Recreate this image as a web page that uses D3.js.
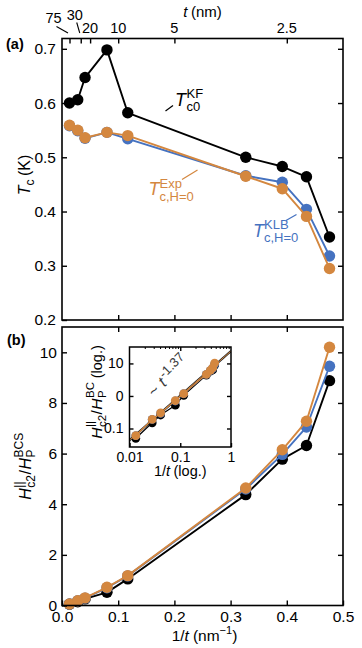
<!DOCTYPE html>
<html><head><meta charset="utf-8">
<script src="https://cdn.jsdelivr.net/npm/d3@7"></script>
<style>
html,body{margin:0;padding:0;background:#fff;}
svg text{font-family:"Liberation Sans",Arial,Helvetica,sans-serif;}
</style></head>
<body>
<svg id="c" width="362" height="648"></svg>
<script>
// ---------- data ----------
const invT   = [0.0133, 0.028, 0.041, 0.080, 0.117, 0.327, 0.392, 0.435, 0.476]; // 1/t (nm^-1)
const tcKF   = [0.600, 0.606, 0.647, 0.698, 0.582, 0.500, 0.483, 0.464, 0.353];
const tcKLB  = [0.558, 0.549, 0.535, 0.546, 0.534, 0.466, 0.454, 0.404, 0.318];
const tcExp  = [0.559, 0.550, 0.536, 0.546, 0.540, 0.465, 0.442, 0.391, 0.295];
const hKF    = [0.05, 0.15, 0.26, 0.52, 1.05, 4.38, 5.78, 6.32, 8.88];
const hKLB   = [0.06, 0.19, 0.29, 0.70, 1.17, 4.60, 5.97, 7.05, 9.45];
const hExp   = [0.06, 0.19, 0.30, 0.72, 1.18, 4.64, 6.15, 7.28, 10.2];
const topT   = [75, 30, 20, 10, 5, 2.5];          // t (nm) ticks on top axis
const xTicks = [0.0, 0.1, 0.2, 0.3, 0.4, 0.5];
const xTickLabels = ["0.0","0.1","0.2","0.3","0.4","0.5"];
const tcTicks = [0.2, 0.3, 0.4, 0.5, 0.6, 0.7];
const tcTickLabels = ["0.2","0.3","0.4","0.5","0.6","0.7"];
const hTicks = [0, 2, 4, 6, 8, 10];
const hTickLabels = ["0","2","4","6","8","10"];
const insXTicks = [0.01, 0.1, 1];
const insXTickLabels = ["0.01","0.1","1"];
const insYTicks = [0.1, 1, 10];
const insYTickLabels = ["0.1","0","10"];
const fitExponent = 1.37, fitPrefactor = 24;

const C_BLACK = "#000000", C_BLUE = "#4572c0", C_ORANGE = "#d4873f";
const FONT = "Liberation Sans, Arial, sans-serif";
const TICK_FS = 15.5, INS_FS = 14;

const svg = d3.select("#c");

// ---------- scales ----------
const x = d3.scaleLinear().domain([0, 0.5]).range([62, 343]);
const yA = d3.scaleLinear().domain([0.2, 0.719]).range([320, 38.5]);
const yB = d3.scaleLinear().domain([0, 11]).range([605.5, 327]);
const xI = d3.scaleLog().domain([0.01, 1]).range([129.5, 231]);
const yI = d3.scaleLog().domain([0.027, 32]).range([447, 347]);

// ---------- helpers ----------
function rich(parent, px, py, parts, color, anchor, rotate) {
  const g = parent.append("g").attr("transform", `translate(${px},${py})` + (rotate ? ` rotate(${rotate})` : ""));
  const inner = g.append("g");
  let cursor = 0, prevStart = 0;
  parts.forEach(p => {
    const x0 = p.stack ? prevStart : cursor + (p.dx || 0);
    const t = inner.append("text").attr("x", x0).attr("y", p.dy || 0)
      .attr("font-size", p.size).attr("font-style", p.italic ? "italic" : "normal")
      .attr("font-weight", p.bold ? "bold" : "normal")
      .attr("fill", color).text(p.t);
    const w = t.node().getComputedTextLength();
    cursor = Math.max(cursor, x0 + w + (p.after || 0));
    prevStart = x0;
  });
  if (anchor === "middle") inner.attr("transform", `translate(${-cursor / 2},0)`);
  if (anchor === "end") inner.attr("transform", `translate(${-cursor},0)`);
  return g;
}

function frame(y) {
  svg.append("rect").attr("x", x.range()[0]).attr("y", y.range()[1])
    .attr("width", x.range()[1] - x.range()[0]).attr("height", y.range()[0] - y.range()[1])
    .attr("fill", "none").attr("stroke", "#000").attr("stroke-width", 1.6);
}

function styleAxis(g, size) {
  g.select(".domain").remove();
  g.selectAll(".tick line").attr("stroke", "#000").attr("stroke-width", 1.4);
  g.selectAll(".tick text").attr("fill", "#000").attr("font-size", size || TICK_FS).attr("font-family", FONT);
}

function series(g, xs, ys, xs_scale, ys_scale, color, r, lw) {
  const pts = xs.map((v, i) => [xs_scale(v), ys_scale(ys[i])]);
  g.append("path").attr("d", d3.line()(pts)).attr("fill", "none")
    .attr("stroke", color).attr("stroke-width", lw).attr("stroke-linejoin", "round");
  g.selectAll(null).data(pts).join("circle")
    .attr("cx", d => d[0]).attr("cy", d => d[1]).attr("r", r).attr("fill", color);
}

// ================= Panel (a) =================
const gA = svg.append("g");
series(gA, invT, tcKF, x, yA, C_BLACK, 5.7, 1.9);
series(gA, invT, tcKLB, x, yA, C_BLUE, 5.7, 1.9);
series(gA, invT, tcExp, x, yA, C_ORANGE, 5.7, 1.9);
frame(yA);

gA.append("g").attr("transform", `translate(${x.range()[0]},0)`)
  .call(d3.axisLeft(yA).tickValues(tcTicks).tickFormat((d, i) => tcTickLabels[i]).tickSizeInner(-5).tickSizeOuter(0).tickPadding(6))
  .call(styleAxis);
gA.append("g").attr("transform", `translate(${x.range()[1]},0)`)
  .call(d3.axisRight(yA).tickValues(tcTicks.slice(1)).tickFormat("").tickSizeInner(-5).tickSizeOuter(0))
  .call(styleAxis);
gA.append("g").attr("transform", `translate(0,${yA.range()[0]})`)
  .call(d3.axisBottom(x).tickValues(xTicks.slice(1, -1)).tickFormat("").tickSizeInner(-5).tickSizeOuter(0))
  .call(styleAxis);
// top axis: t (nm)
const topG = gA.append("g").attr("transform", `translate(0,${yA.range()[1]})`);
topG.call(d3.axisTop(x).tickValues(topT.map(t => 1 / t)).tickFormat("").tickSizeInner(-5).tickSizeOuter(0)).call(styleAxis);
const topLabelOffsets = [[-16, -15.5], [-6, -18.5], [0, -5.5], [0, -5.5], [0, -5.5], [0, -5.5]];
topT.forEach((t, i) => {
  topG.append("text").attr("x", x(1 / t) + topLabelOffsets[i][0]).attr("y", topLabelOffsets[i][1])
    .attr("text-anchor", "middle").attr("font-size", 14.5).attr("fill", "#000").text(String(t));
});
topG.append("line").attr("x1", x(1 / 75) - 13).attr("y1", -12).attr("x2", x(1 / 75) - 1.5).attr("y2", -5.5)
  .attr("stroke", "#000").attr("stroke-width", 1.1);
topG.append("line").attr("x1", x(1 / 30) - 4).attr("y1", -16).attr("x2", x(1 / 30) - 1).attr("y2", -5.5)
  .attr("stroke", "#000").attr("stroke-width", 1.1);
rich(svg, (x.range()[0] + x.range()[1]) / 2, 17, [
  { t: "t", size: 15, italic: true, after: 3.5 },
  { t: "(nm)", size: 15 }
], "#000", "middle");

svg.append("text").attr("x", 6).attr("y", 48.5).attr("font-size", 14.5).attr("font-weight", "bold").text("(a)");

rich(svg, 30, 175, [
  { t: "T", size: 16, italic: true },
  { t: "c", size: 12, dy: 4, after: 3.5 },
  { t: "(K)", size: 16 }
], "#000", "middle", -90);

// annotations
rich(svg, 175, 105.5, [
  { t: "T", size: 18, italic: true, after: 0.5 },
  { t: "KF", size: 13, dy: -7.5 },
  { t: "c0", size: 13, dy: 5.5, stack: true, dx: 0 }
], C_BLACK);
svg.append("line").attr("x1", 165.5).attr("y1", 111).attr("x2", 173).attr("y2", 105.5).attr("stroke", C_BLACK).attr("stroke-width", 1.2);

rich(svg, 148.5, 195, [
  { t: "T", size: 18, italic: true, after: 0 },
  { t: "Exp", size: 13, dy: -7.5 },
  { t: "c,H=0", size: 13, dy: 5.5, stack: true, dx: -1 }
], C_ORANGE);
svg.append("line").attr("x1", 182).attr("y1", 179.5).attr("x2", 197.5).attr("y2", 170).attr("stroke", C_ORANGE).attr("stroke-width", 1.2);

rich(svg, 253, 236.5, [
  { t: "T", size: 18, italic: true, after: 0 },
  { t: "KLB", size: 13, dy: -7.5 },
  { t: "c,H=0", size: 13, dy: 5.5, stack: true }
], C_BLUE);
svg.append("line").attr("x1", 286).attr("y1", 220.5).attr("x2", 296.5).attr("y2", 214.5).attr("stroke", C_BLUE).attr("stroke-width", 1.2);

// ================= Panel (b) =================
const gB = svg.append("g");
series(gB, invT, hKF, x, yB, C_BLACK, 5.7, 1.9);
series(gB, invT, hKLB, x, yB, C_BLUE, 5.7, 1.9);
series(gB, invT, hExp, x, yB, C_ORANGE, 5.7, 1.9);
frame(yB);

gB.append("g").attr("transform", `translate(${x.range()[0]},0)`)
  .call(d3.axisLeft(yB).tickValues(hTicks).tickFormat((d, i) => hTickLabels[i]).tickSizeInner(-5).tickSizeOuter(0).tickPadding(5))
  .call(styleAxis);
gB.append("g").attr("transform", `translate(${x.range()[1]},0)`)
  .call(d3.axisRight(yB).tickValues(hTicks.slice(1)).tickFormat("").tickSizeInner(-5).tickSizeOuter(0))
  .call(styleAxis);
gB.append("g").attr("transform", `translate(0,${yB.range()[0]})`)
  .call(d3.axisBottom(x).tickValues(xTicks).tickFormat((d, i) => xTickLabels[i]).tickSizeInner(-5).tickSizeOuter(0).tickPadding(5))
  .call(styleAxis);
gB.append("g").attr("transform", `translate(0,${yB.range()[1]})`)
  .call(d3.axisTop(x).tickValues(xTicks.slice(1, -1)).tickFormat("").tickSizeInner(-5).tickSizeOuter(0))
  .call(styleAxis);

svg.append("text").attr("x", 7).attr("y", 345).attr("font-size", 14.5).attr("font-weight", "bold").text("(b)");

rich(svg, (x.range()[0] + x.range()[1]) / 2 + 2, 640.5, [
  { t: "1/", size: 15.5 },
  { t: "t", size: 15.5, italic: true, after: 4 },
  { t: "(nm", size: 15.5 },
  { t: "\u22121", size: 11, dy: -6.5 },
  { t: ")", size: 15.5 }
], "#000", "middle");

rich(svg, 30.5, (yB.range()[0] + yB.range()[1]) / 2, [
  { t: "H", size: 16, italic: true, after: 0.5 },
  { t: "||", size: 12, dy: -7.5 },
  { t: "c2", size: 12, dy: 4.5, stack: true, after: 0.5 },
  { t: "/", size: 16, after: 0.5 },
  { t: "H", size: 16, italic: true, after: 0.5 },
  { t: "BCS", size: 12, dy: -7.5 },
  { t: "P", size: 12, dy: 4.5, stack: true }
], "#000", "middle", -90);

// ================= Inset =================
const gI = svg.append("g");
gI.append("rect").attr("x", xI.range()[0]).attr("y", yI.range()[1])
  .attr("width", xI.range()[1] - xI.range()[0]).attr("height", yI.range()[0] - yI.range()[1]).attr("fill", "#fff");
svg.append("clipPath").attr("id", "insclip").append("rect")
  .attr("x", xI.range()[0]).attr("y", yI.range()[1])
  .attr("width", xI.range()[1] - xI.range()[0]).attr("height", yI.range()[0] - yI.range()[1]);
const gIc = gI.append("g").attr("clip-path", "url(#insclip)");
const fitPts = xI.domain().map(v => [xI(v), yI(fitPrefactor * Math.pow(v, fitExponent))]);
series(gIc, invT, hKF, xI, yI, C_BLACK, 4.4, 1.2);
series(gIc, invT, hKLB, xI, yI, C_BLUE, 4.4, 1.2);
gIc.append("path").attr("d", d3.line()(fitPts)).attr("stroke", "#222").attr("stroke-width", 2.2).attr("fill", "none");
gIc.append("path").attr("d", d3.line()(fitPts)).attr("stroke", C_ORANGE).attr("stroke-width", 1).attr("fill", "none");
series(gIc, invT, hExp, xI, yI, C_ORANGE, 4.4, 1.2);

gI.append("rect").attr("x", xI.range()[0]).attr("y", yI.range()[1])
  .attr("width", xI.range()[1] - xI.range()[0]).attr("height", yI.range()[0] - yI.range()[1])
  .attr("fill", "none").attr("stroke", "#000").attr("stroke-width", 1.5);

const minors = [];
[0.01, 0.1].forEach(dec => { for (let k = 2; k <= 9; k++) minors.push(dec * k); });
gI.append("g").attr("transform", `translate(${xI.range()[0]},0)`)
  .call(d3.axisLeft(yI).tickValues(insYTicks).tickFormat((d, i) => insYTickLabels[i]).tickSizeInner(-4).tickSizeOuter(0).tickPadding(6))
  .call(g => styleAxis(g, INS_FS));
gI.append("g").attr("transform", `translate(${xI.range()[1]},0)`)
  .call(d3.axisRight(yI).tickValues(insYTicks).tickFormat("").tickSizeInner(-4).tickSizeOuter(0))
  .call(styleAxis);
gI.append("g").attr("transform", `translate(0,${yI.range()[0]})`)
  .call(d3.axisBottom(xI).tickValues(insXTicks).tickFormat((d, i) => insXTickLabels[i]).tickSizeInner(-4).tickSizeOuter(0).tickPadding(5))
  .call(g => styleAxis(g, INS_FS));
gI.append("g").attr("transform", `translate(0,${yI.range()[1]})`)
  .call(d3.axisTop(xI).tickValues(insXTicks.slice(1, -1)).tickFormat("").tickSizeInner(-4).tickSizeOuter(0))
  .call(styleAxis);
gI.append("g").attr("transform", `translate(0,${yI.range()[1]})`)
  .call(d3.axisTop(xI).tickValues(minors).tickFormat("").tickSizeInner(-2).tickSizeOuter(0))
  .call(g => { styleAxis(g); g.selectAll(".tick line").attr("stroke-width", 1); });

rich(svg, (xI.range()[0] + xI.range()[1]) / 2, 476, [
  { t: "1/", size: 14.5 },
  { t: "t", size: 14.5, italic: true, after: 3.5 },
  { t: "(log.)", size: 14.5 }
], "#000", "middle");

rich(svg, 101.5, (yI.range()[0] + yI.range()[1]) / 2 - 5, [
  { t: "H", size: 15.5, italic: true, after: 0.5 },
  { t: "||", size: 11.5, dy: -7.5 },
  { t: "c2", size: 11.5, dy: 4.5, stack: true, after: 0.5 },
  { t: "/", size: 15.5, after: 0.5 },
  { t: "H", size: 15.5, italic: true, after: 0.5 },
  { t: "BC", size: 11.5, dy: -7.5 },
  { t: "P", size: 11.5, dy: 4.5, stack: true, after: 12 },
  { t: "(log.)", size: 14.5 }
], "#000", "middle", -90);

// slope annotation
rich(svg, 172, 380, [
  { t: "~", size: 16, after: 5 },
  { t: "t", size: 16, italic: true, after: 1.5 },
  { t: "-1.37", size: 13, dy: -6.5 }
], "#3a3a3a", "middle", -45);
</script>
</body></html>
